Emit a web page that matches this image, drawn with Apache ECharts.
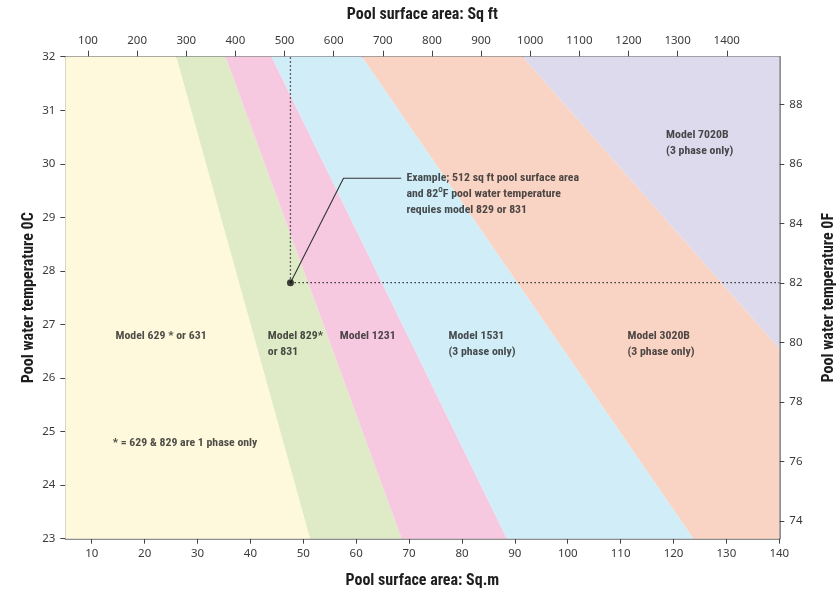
<!DOCTYPE html>
<html>
<head>
<meta charset="utf-8">
<script src="https://cdn.jsdelivr.net/npm/echarts@6/dist/echarts.min.js"></script>
<style>
html,body{margin:0;padding:0;background:#fff;}
#chart{width:836px;height:594px;}
</style>
</head>
<body>
<div id="chart"></div>
<script>
// ---------- data ----------
const sqmTicks = [10,20,30,40,50,60,70,80,90,100,110,120,130,140];
const sqftTicks = [100,200,300,400,500,600,700,800,900,1000,1100,1200,1300,1400];
const tempCTicks = [23,24,25,26,27,28,29,30,31,32];
const tempFTicks = [74,76,78,80,82,84,86,88];
const sqmRange = [5, 140];
const tempCRange = [23, 32];
const SQFT_PER_SQM = 10.7639;

// band boundaries: area (sq.m) where each boundary meets 32°C (top) and 23°C (bottom)
const boundaryTopSqm = [26.0, 35.3, 44.0, 61.1, 91.5];
const boundaryBottomSqm = [51.3, 68.6, 88.5, 123.8];
const lastBoundaryRightTempC = 26.55; // 7020B boundary meets 140 sq.m here
const bandNames = ['629/631','829/831','1231','1531','3020B','7020B'];
const bandColors = ['#FEF9DC','#DEEBC6','#F7C9E0','#D0EDF8','#F9D4C4','#DCDAEC'];

// example point
const examplePoint = [47.57, 27.78]; // 512 sq ft, 82°F
const leaderLine = [[47.57, 27.78], [57.6, 29.73], [68.5, 29.73]];

// label anchors [sq.m, °C, text]
const bandLabels = [
  [14.5, 26.78, 'Model 629 * or 631'],
  [43.3, 26.64, 'Model 829*\nor 831'],
  [56.9, 26.78, 'Model 1231'],
  [77.45, 26.63, 'Model 1531\n(3 phase only)'],
  [111.3, 26.63, 'Model 3020B\n(3 phase only)'],
  [118.6, 30.39, 'Model 7020B\n(3 phase only)'],
  [13.95, 24.78, '* = 629 & 829 are 1 phase only']
];
const exampleLabel = [69.5, 29.43, 'Example; 512 sq ft pool surface area\nand 82{sup|O}F pool water temperature\nrequies model 829 or 831'];

// ---------- build polygons ----------
const tTop = tempCRange[1], tBot = tempCRange[0], xMin = sqmRange[0], xMax = sqmRange[1];
const polys = [
  [[xMin,tTop],[boundaryTopSqm[0],tTop],[boundaryBottomSqm[0],tBot],[xMin,tBot]],
  [[boundaryTopSqm[0],tTop],[boundaryTopSqm[1],tTop],[boundaryBottomSqm[1],tBot],[boundaryBottomSqm[0],tBot]],
  [[boundaryTopSqm[1],tTop],[boundaryTopSqm[2],tTop],[boundaryBottomSqm[2],tBot],[boundaryBottomSqm[1],tBot]],
  [[boundaryTopSqm[2],tTop],[boundaryTopSqm[3],tTop],[boundaryBottomSqm[3],tBot],[boundaryBottomSqm[2],tBot]],
  [[boundaryTopSqm[3],tTop],[boundaryTopSqm[4],tTop],[xMax,lastBoundaryRightTempC],[xMax,tBot],[boundaryBottomSqm[3],tBot]],
  [[boundaryTopSqm[4],tTop],[xMax,tTop],[xMax,lastBoundaryRightTempC]]
];

const condFont = '"Liberation Sans Narrow","Noto Sans Condensed","Roboto Condensed","Open Sans Condensed","Arial Narrow","DejaVu Sans Condensed",sans-serif';
const tickFont = '"Noto Sans","Open Sans",sans-serif';
const axisColor = '#6a6a6a';
const textColor = '#222';

const chart = echarts.init(document.getElementById('chart'), null, {renderer:'canvas'});

const axisLineStyle = {show:true, lineStyle:{color:axisColor, width:1.5}};
const tickStyle = {show:true, length:5, lineStyle:{color:'#444', width:1}};
const labelStyle = {color:'#3a3a3a', fontFamily:tickFont, fontSize:11.5};
const nameStyle = {color:'#1e1e1e', fontFamily:condFont, fontWeight:'bold', fontSize:16};
const plain = v => String(v);

const option = {
  animation:false,
  grid:{left:65.3, right:56.7, top:56.7, bottom:55.3, outerBoundsMode:'none', containLabel:false},
  xAxis:[
    {type:'value', position:'bottom', min:sqmRange[0], max:sqmRange[1],
     name:'Pool surface area: Sq.m', nameLocation:'middle', nameGap:34, nameTextStyle:nameStyle,
     axisLine:axisLineStyle,
     axisTick:Object.assign({}, tickStyle, {customValues:sqmTicks}),
     axisLabel:Object.assign({}, labelStyle, {customValues:sqmTicks, margin:9, formatter:plain}),
     splitLine:{show:false}},
    {type:'value', position:'top', min:sqmRange[0]*SQFT_PER_SQM, max:sqmRange[1]*SQFT_PER_SQM,
     name:'Pool surface area: Sq ft', nameLocation:'middle', nameGap:34, nameTextStyle:nameStyle,
     axisLine:axisLineStyle,
     axisTick:Object.assign({}, tickStyle, {length:6, customValues:sqftTicks}),
     axisLabel:Object.assign({}, labelStyle, {customValues:sqftTicks, margin:10, formatter:plain}),
     splitLine:{show:false}}
  ],
  yAxis:[
    {type:'value', position:'left', min:tempCRange[0], max:tempCRange[1], interval:1,
     name:'Pool water temperature 0C', nameLocation:'middle', nameGap:28, nameMoveOverlap:false, nameTextStyle:nameStyle,
     axisLine:axisLineStyle, axisTick:tickStyle,
     axisLabel:Object.assign({}, labelStyle, {margin:10, formatter:plain}),
     splitLine:{show:false}},
    {type:'value', position:'right', min:tempCRange[0]*9/5+32, max:tempCRange[1]*9/5+32,
     name:'Pool water temperature 0F', nameLocation:'middle', nameGap:42, nameTextStyle:nameStyle,
     axisLine:axisLineStyle,
     axisTick:Object.assign({}, tickStyle, {customValues:tempFTicks}),
     axisLabel:Object.assign({}, labelStyle, {customValues:tempFTicks, margin:10, formatter:plain}),
     splitLine:{show:false}}
  ],
  series:[
    {type:'custom', xAxisIndex:0, yAxisIndex:0, z:1, silent:true,
     data: polys.map((p,i)=>({name:bandNames[i], value:p[0]})),
     renderItem:function(params, api){
       const pts = polys[params.dataIndex].map(v=>api.coord(v));
       return {type:'polygon', shape:{points:pts}, style:{fill:bandColors[params.dataIndex], stroke:null}};
     }},
    {type:'line', xAxisIndex:0, yAxisIndex:0, z:3, symbol:'none', silent:true,
     data:[examplePoint, [examplePoint[0], tTop]],
     lineStyle:{color:'#333', width:1.3, type:[1.5,2.5]}},
    {type:'line', xAxisIndex:0, yAxisIndex:0, z:3, symbol:'none', silent:true,
     data:[examplePoint, [xMax, examplePoint[1]]],
     lineStyle:{color:'#333', width:1.3, type:[1.5,2.5]}},
    {type:'line', xAxisIndex:0, yAxisIndex:0, z:3, symbol:'none', silent:true,
     data:leaderLine,
     lineStyle:{color:'#333', width:1.1}},
    {type:'scatter', xAxisIndex:0, yAxisIndex:0, z:4, symbol:'circle', symbolSize:7, silent:true,
     itemStyle:{color:'#111'}, data:[examplePoint]},
    {type:'scatter', xAxisIndex:0, yAxisIndex:0, z:5, symbolSize:0, silent:true,
     data: bandLabels.map(l=>({value:[l[0],l[1]], name:l[2]})).concat([{value:[exampleLabel[0],exampleLabel[1]], name:exampleLabel[2]}]),
     label:{show:true, position:'right', distance:0, formatter:p=>p.name,
       color:textColor, fontFamily:condFont, fontWeight:'bold', fontSize:11.8, lineHeight:16,
       rich:{sup:{fontSize:7.5, fontFamily:condFont, fontWeight:'bold', color:textColor, verticalAlign:'top', padding:[0,0,5,0], lineHeight:16}}}}
  ]
};
chart.setOption(option);
</script>
</body>
</html>
